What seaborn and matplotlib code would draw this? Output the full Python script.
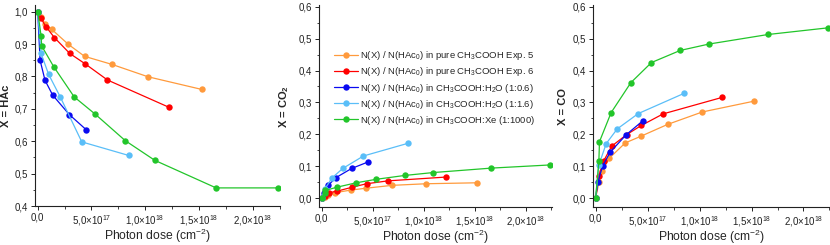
import numpy as np
import pandas as pd
import matplotlib
matplotlib.use("Agg")
import matplotlib.pyplot as plt
from matplotlib.ticker import MultipleLocator, FuncFormatter
import seaborn as sns

# -------------------------
# Data (photon dose in cm^-2, fractions relative to N(HAc0))
# -------------------------
labels = [
    r"N(X) / N(HAc$_0$) in pure CH$_3$COOH Exp. 5",
    r"N(X) / N(HAc$_0$) in pure CH$_3$COOH Exp. 6",
    r"N(X) / N(HAc$_0$) in CH$_3$COOH:H$_2$O (1:0.6)",
    r"N(X) / N(HAc$_0$) in CH$_3$COOH:H$_2$O (1:1.6)",
    r"N(X) / N(HAc$_0$) in CH$_3$COOH:Xe (1:1000)",
]
colors = ["#FF9A3C", "#FF0000", "#0A0AF0", "#5ABEF8", "#22C52A"]

dose_exp5 = [0, 0.33e17, 0.66e17, 1.31e17, 2.85e17, 4.36e17, 6.92e17, 10.26e17, 15.25e17]
hac_exp5 = [1.0, 0.982, 0.963, 0.945, 0.899, 0.862, 0.837, 0.799, 0.760]
co2_exp5 = [0, 0.005, 0.009, 0.017, 0.025, 0.031, 0.040, 0.045, 0.048]
co_exp5 = [0, 0.051, 0.086, 0.125, 0.173, 0.194, 0.231, 0.270, 0.304]

dose_exp6 = [0, 0.30e17, 0.78e17, 1.55e17, 2.98e17, 4.41e17, 6.49e17, 12.2e17]
hac_exp6 = [1.0, 0.979, 0.953, 0.920, 0.871, 0.839, 0.789, 0.705]
co2_exp6 = [0, 0.007, 0.017, 0.022, 0.034, 0.045, 0.054, 0.066]
co_exp6 = [0, 0.070, 0.117, 0.163, 0.199, 0.228, 0.264, 0.316]

dose_h2o_06 = [0, 0.22e17, 0.68e17, 1.40e17, 2.95e17, 4.53e17]
hac_h2o_06 = [1.0, 0.850, 0.788, 0.742, 0.682, 0.635]
co2_h2o_06 = [0, 0.017, 0.041, 0.064, 0.093, 0.113]
co_h2o_06 = [0, 0.051, 0.101, 0.144, 0.199, 0.242]

dose_h2o_16 = [0, 0.31e17, 1.02e17, 2.08e17, 4.10e17, 8.48e17]
hac_h2o_16 = [1.0, 0.871, 0.806, 0.738, 0.598, 0.556]
co2_h2o_16 = [0, 0.028, 0.063, 0.093, 0.132, 0.172]
co_h2o_16 = [0, 0.104, 0.171, 0.217, 0.265, 0.328]

dose_xe = [0, 0.31e17, 0.37e17, 1.49e17, 3.39e17, 5.37e17, 8.14e17, 10.9e17, 16.6e17, 22.4e17]
hac_xe = [1.0, 0.926, 0.894, 0.830, 0.737, 0.683, 0.602, 0.541, 0.456, 0.456]
co2_xe = [0, 0.015, 0.024, 0.034, 0.048, 0.059, 0.071, 0.080, 0.094, 0.104]
co_xe = [0, 0.115, 0.177, 0.268, 0.362, 0.425, 0.463, 0.483, 0.513, 0.534]

doses = [dose_exp5, dose_exp6, dose_h2o_06, dose_h2o_16, dose_xe]
hac = [hac_exp5, hac_exp6, hac_h2o_06, hac_h2o_16, hac_xe]
co2 = [co2_exp5, co2_exp6, co2_h2o_06, co2_h2o_16, co2_xe]
co = [co_exp5, co_exp6, co_h2o_06, co_h2o_16, co_xe]

# long-form table
rows = []
for lab, d, a, b, c in zip(labels, doses, hac, co2, co):
    for i in range(len(d)):
        rows.append({"series": lab, "dose": d[i], "HAc": a[i], "CO2": b[i], "CO": c[i]})
df = pd.DataFrame(rows)

# -------------------------
# Style
# -------------------------
sns.set_style("ticks")
plt.rcParams["font.family"] = ["Liberation Sans", "DejaVu Sans"]
plt.rcParams["mathtext.fontset"] = "custom"
plt.rcParams["mathtext.rm"] = "Liberation Sans"
plt.rcParams["mathtext.it"] = "Liberation Sans"
plt.rcParams["mathtext.bf"] = "Liberation Sans:bold"


def xfmt(v, pos):
    if v < -1:
        return ""
    if abs(v) < 1:
        return "0,0"
    e = int(np.floor(np.log10(v)))
    m = v / 10 ** e
    return ("%.1f" % m).replace(".", ",") + r"$\times$10$^{%d}$" % e


def yfmt(v, pos):
    if abs(v) < 1e-9:
        v = 0.0
    return ("%.1f" % v).replace(".", ",")


fig = plt.figure(figsize=(8.3, 2.45), dpi=100)
positions = [
    [0.0422, 0.159, 0.2952, 0.820],
    [0.3843, 0.155, 0.2807, 0.824],
    [0.7145, 0.155, 0.2855, 0.824],
]
ycols = ["HAc", "CO2", "CO"]
ylabels = ["X = HAc", r"X = CO$_\mathbf{2}$", "X = CO"]
ylims = [(0.4, 1.02), (-0.028, 0.605), (-0.028, 0.605)]
ylab_x = [-0.098, -0.118, -0.105]

for i in range(3):
    ax = fig.add_axes(positions[i])
    sns.lineplot(data=df, x="dose", y=ycols[i], hue="series", palette=colors,
                 hue_order=labels, estimator=None, sort=False, marker="o",
                 markersize=4.6, markeredgewidth=0, linewidth=0.9,
                 legend=False, ax=ax)
    ax.set_xlim(-0.025e18, 2.255e18)
    ax.set_ylim(*ylims[i])
    ax.xaxis.set_major_locator(MultipleLocator(5e17))
    ax.xaxis.set_minor_locator(MultipleLocator(2.5e17))
    ax.yaxis.set_major_locator(MultipleLocator(0.1))
    ax.yaxis.set_minor_locator(MultipleLocator(0.05))
    ax.xaxis.set_major_formatter(FuncFormatter(xfmt))
    ax.yaxis.set_major_formatter(FuncFormatter(yfmt))
    ax.tick_params(axis="both", which="major", direction="out", length=3,
                   width=0.7, labelsize=7, pad=2, colors="#222222")
    ax.tick_params(axis="both", which="minor", direction="out", length=1.8,
                   width=0.6, colors="#222222")
    for s in ["left", "bottom"]:
        ax.spines[s].set_linewidth(0.8)
        ax.spines[s].set_color("#222222")
    sns.despine(ax=ax)
    ax.set_xlabel(r"Photon dose (cm$^{-2}$)", fontsize=8.7, labelpad=-1)
    ax.set_ylabel(ylabels[i], fontsize=8, fontweight="bold")
    ax.yaxis.set_label_coords(ylab_x[i], 0.5)

    if i == 1:
        ax.legend(ax.lines[:5], labels, loc="upper left", bbox_to_anchor=(0.05, 0.80),
                  frameon=False, fontsize=6.8, handlelength=2.45, handletextpad=0.3,
                  labelspacing=0.33, borderaxespad=0)

plt.savefig("out.png", dpi=100)
